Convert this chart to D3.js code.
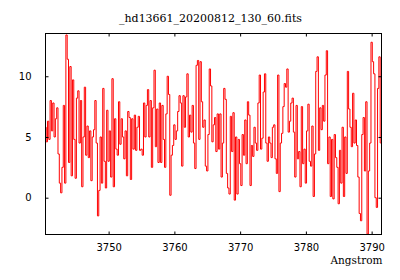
<!DOCTYPE html>
<html><head><meta charset="utf-8">
<script src="https://cdn.jsdelivr.net/npm/d3@7"></script>
<style>body{margin:0;background:#fff}svg{display:block}</style>
</head><body>
<svg id="c" width="400" height="280"></svg>
<script>
const title = "_hd13661_20200812_130_60.fits";
const xLabel = "Angstrom";
const xStart = 3740.4, xStep = 0.2;
const flux = [
5.8,4.6,6.3,4.8,8.0,5.5,7.8,5.0,6.5,7.4,3.6,1.2,0.4,2.5,7.6,1.2,13.4,11.4,2.9,10.8,
1.8,9.7,4.8,1.6,8.2,8.8,4.5,8.0,0.9,5.0,9.1,3.5,5.9,3.3,5.5,1.4,5.0,
5.6,8.0,4.5,-1.5,0.6,5.0,1.2,9.0,3.0,0.8,7.2,3.0,5.5,1.7,9.8,0.9,6.5,4.0,3.5,7.9,
4.4,6.5,5.0,3.2,5.5,1.8,7.1,6.6,1.5,6.5,4.0,6.8,3.9,5.8,6.7,3.9,
4.0,3.5,7.8,5.0,7.6,8.9,5.0,8.0,2.5,7.4,10.5,4.2,7.3,2.9,7.8,2.9,7.6,4.8,2.5,6.9,
10.0,8.5,0.2,3.5,4.3,6.0,4.8,5.5,7.1,8.4,7.8,2.6,8.4,5.8,8.3,10.2,5.0,
6.8,5.4,7.6,4.5,2.4,10.9,11.3,4.8,11.2,7.9,5.8,6.4,2.6,2.2,5.2,10.6,9.2,4.6,6.0,
6.6,3.8,6.9,4.0,6.9,1.7,4.5,9.0,8.1,2.0,0.8,0.3,6.7,3.8,7.0,-0.2,5.0,
0.3,4.8,2.8,1.0,5.2,3.5,6.4,2.8,7.9,6.8,1.0,4.3,3.4,5.8,4.5,3.9,7.8,10.1,4.0,4.9,
8.7,10.2,4.5,3.0,5.0,4.5,3.3,5.8,6.0,3.2,2.0,10.1,0.5,4.5,5.3,7.5,9.4,
9.1,10.6,5.4,6.3,7.8,8.2,5.4,1.7,7.6,3.2,3.8,0.9,7.5,2.8,4.0,1.2,5.5,7.7,3.0,2.6,
5.9,0.1,3.6,10.4,11.6,3.9,7.4,5.6,7.6,6.3,10.1,12.1,2.8,5.0,0.1,4.8,
-0.1,5.2,3.3,2.5,-0.5,3.9,1.2,5.8,0.1,5.0,2.0,10.4,7.3,5.8,4.2,8.6,4.5,6.4,4.3,1.7,
-1.3,-1.9,5.2,6.6,2.2,7.9,-3.0,2.2,4.5,12.8,11.2,10.2,0.0,-0.8,9.0,11.6,4.5
];
const xTicks = [3750,3760,3770,3780,3790];
const yTicks = [0,5,10];

const data = flux.map((v,i)=>({x: xStart + i*xStep, y: v}));
const m={l:45.5,r:381.5,t:33.5,b:234.5};
const svg = d3.select("#c");
const x = d3.scaleLinear().domain([3740.4,3791.5]).range([m.l,m.r]);
const y = d3.scaleLinear().domain([-3.03,13.52]).range([m.b,m.t]);

svg.append("defs").append("clipPath").attr("id","clip")
  .append("rect").attr("x",m.l).attr("y",m.t).attr("width",m.r-m.l).attr("height",m.b-m.t);

svg.append("path").datum(data)
  .attr("clip-path","url(#clip)")
  .attr("fill","none").attr("stroke","#ff0000").attr("stroke-width",1)
  .attr("d", d3.line().curve(d3.curveStep).x(d=>x(d.x)).y(d=>y(d.y)));

const tl=3;
const gb = svg.append("g").attr("transform",`translate(0,${m.b})`)
  .call(d3.axisBottom(x).tickValues(xTicks).tickSizeInner(-tl).tickSizeOuter(0).tickPadding(9).tickFormat(d3.format("d")));
const gt = svg.append("g").attr("transform",`translate(0,${m.t})`)
  .call(d3.axisTop(x).tickValues(xTicks).tickSizeInner(-tl).tickSizeOuter(0).tickFormat(""));
const gl = svg.append("g").attr("transform",`translate(${m.l},0)`)
  .call(d3.axisLeft(y).tickValues(yTicks).tickSizeInner(-tl).tickSizeOuter(0).tickPadding(14));
const gr = svg.append("g").attr("transform",`translate(${m.r},0)`)
  .call(d3.axisRight(y).tickValues(yTicks).tickSizeInner(-tl).tickSizeOuter(0).tickFormat(""));
[gb,gt,gl,gr].forEach(g=>{
  g.select(".domain").remove();
  g.selectAll("line").attr("stroke","#000");
  g.selectAll("text").attr("font-family","DejaVu Sans").attr("font-size","10px").attr("fill","#000");
});
svg.append("rect").attr("x",m.l).attr("y",m.t).attr("width",m.r-m.l).attr("height",m.b-m.t)
  .attr("fill","none").attr("stroke","#000").attr("stroke-width",1);

svg.append("text").attr("x",210.5).attr("y",22).attr("text-anchor","middle")
  .attr("font-family","DejaVu Serif").attr("font-size","11px").text(title);
svg.append("text").attr("x",382.5).attr("y",264).attr("text-anchor","end")
  .attr("font-family","DejaVu Serif").attr("font-size","10.5px").text(xLabel);
</script>
</body></html>
